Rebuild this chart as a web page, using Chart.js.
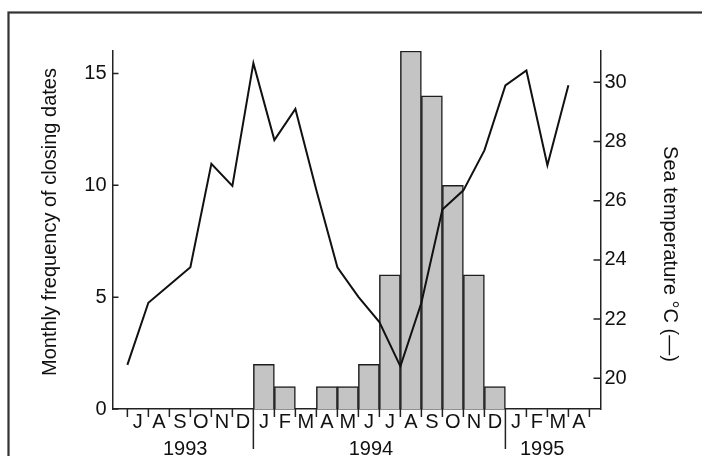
<!DOCTYPE html>
<html>
<head>
<meta charset="utf-8">
<script src="https://cdn.jsdelivr.net/npm/chart.js@4.4.1/dist/chart.umd.min.js"></script>
<style>
    body { margin: 0; background: #fff; }
    #wrap { width: 702px; height: 456px; }
</style>
</head>
<body>
<div id="wrap"><canvas id="seaChart" width="702" height="456"></canvas></div>
<script>
// Jul 1993 .. Apr 1995, one entry per month
const monthLabels = ["J", "A", "S", "O", "N", "D", "J", "F", "M", "A", "M", "J", "J", "A", "S", "O", "N", "D", "J", "F", "M", "A"];
const yearLabels = ["1993", "1994", "1995"];
const yearStarts = [0, 6, 18];
const closingFreq = [0, 0, 0, 0, 0, 0, 2, 1, 0, 1, 1, 2, 6, 16, 14, 10, 6, 1, 0, 0, 0, 0];
const seaTemp = [20.45, 22.55, 23.15, 23.75, 27.25, 26.5, 30.65, 28.05, 29.1, 26.35, 23.75, 22.75, 21.9, 20.4, 22.55, 25.7, 26.35, 27.7, 29.9, 30.4, 27.2, 29.9];
const freqTicks = [0, 5, 10, 15];
const tempTicks = [20, 22, 24, 26, 28, 30];

const FONT = "'Liberation Sans', Arial, Helvetica, sans-serif";
Chart.defaults.font.family = FONT;
Chart.defaults.color = "#111";

// tick marks, year row, axis titles and the frame
const decorations = {
    id: "decorations",
    afterDraw(chart) {
        const { ctx, chartArea: area, scales: { x, y, y1 } } = chart;
        ctx.save();
        ctx.strokeStyle = "#222";
        ctx.lineWidth = 1.5;
        ctx.beginPath();
        freqTicks.forEach(v => {
            let py = y.getPixelForValue(v);
            ctx.moveTo(area.left, py);
            ctx.lineTo(area.left + 6, py);
        });
        tempTicks.forEach(v => {
            let py = y1.getPixelForValue(v);
            ctx.moveTo(area.right, py);
            ctx.lineTo(area.right - 7, py);
        });
        for (let i = 0; i <= monthLabels.length; i++) {
            let px = x.getPixelForValue(i);
            let long = i > 0 && yearStarts.includes(i);
            ctx.moveTo(px, area.bottom);
            ctx.lineTo(px, area.bottom + (long ? 40 : 8));
        }
        ctx.stroke();

        ctx.fillStyle = "#111";
        ctx.font = "20px " + FONT;
        ctx.textAlign = "center";
        ctx.textBaseline = "alphabetic";
        const yearPos = [2.75, 11.6, 19.75];
        yearLabels.forEach((yr, i) => {
            ctx.fillText(yr, x.getPixelForValue(yearPos[i]), 455);
        });

        ctx.textBaseline = "middle";
        ctx.save();
        ctx.translate(50, 222);
        ctx.rotate(-Math.PI / 2);
        ctx.fillText("Monthly frequency of closing dates", 0, 0);
        ctx.restore();
        ctx.save();
        ctx.translate(670, 254);
        ctx.rotate(Math.PI / 2);
        ctx.fillText("Sea temperature \u00B0C (\u2014)", 0, 0);
        ctx.restore();

        ctx.strokeStyle = "#333";
        ctx.lineWidth = 2.2;
        ctx.strokeRect(8.5, 12.5, 800, 600);
        ctx.restore();
    }
};

new Chart(document.getElementById("seaChart"), {
    data: {
        datasets: [
            {
                type: "line",
                label: "Sea temperature",
                yAxisID: "y1",
                data: seaTemp.map((t, i) => ({ x: i, y: t })),
                borderColor: "#111",
                borderWidth: 2,
                pointRadius: 0,
                tension: 0,
                order: 0
            },
            {
                type: "bar",
                label: "Monthly frequency of closing dates",
                yAxisID: "y",
                data: closingFreq.map((v, i) => ({ x: i + 0.5, y: v })),
                backgroundColor: "#c4c4c4",
                borderColor: "#1e1e1e",
                borderWidth: 1.5,
                barPercentage: 1,
                categoryPercentage: 1,
                order: 1
            }
        ]
    },
    options: {
        responsive: false,
        animation: false,
        layout: { padding: { top: 51, left: 0, right: 0, bottom: 0 } },
        plugins: {
            legend: { display: false },
            tooltip: { enabled: false }
        },
        scales: {
            x: {
                type: "linear",
                min: -0.18,
                max: 22,
                grid: { display: false, drawTicks: false },
                border: { display: true, color: "#222", width: 1.5 },
                afterBuildTicks: s => { s.ticks = monthLabels.map((m, i) => ({ value: i + 0.5 })); },
                ticks: {
                    autoSkip: false,
                    maxRotation: 0,
                    padding: 1,
                    font: { size: 20 },
                    callback: (v, i) => monthLabels[i]
                },
                afterFit: s => { s.height = 47; }
            },
            y: {
                position: "left",
                min: 0,
                max: 16,
                grid: { display: false, drawTicks: false },
                border: { display: true, color: "#222", width: 1.5 },
                afterBuildTicks: s => { s.ticks = freqTicks.map(v => ({ value: v })); },
                ticks: { padding: 6, font: { size: 20 } },
                afterFit: s => { s.width = 112.5; }
            },
            y1: {
                position: "right",
                min: 18.96,
                max: 31.06,
                grid: { display: false, drawTicks: false },
                border: { display: true, color: "#222", width: 1.5 },
                afterBuildTicks: s => { s.ticks = tempTicks.map(v => ({ value: v })); },
                ticks: { padding: 4, font: { size: 20 } },
                afterFit: s => { s.width = 101.5; }
            }
        }
    },
    plugins: [decorations]
});
</script>
</body>
</html>
